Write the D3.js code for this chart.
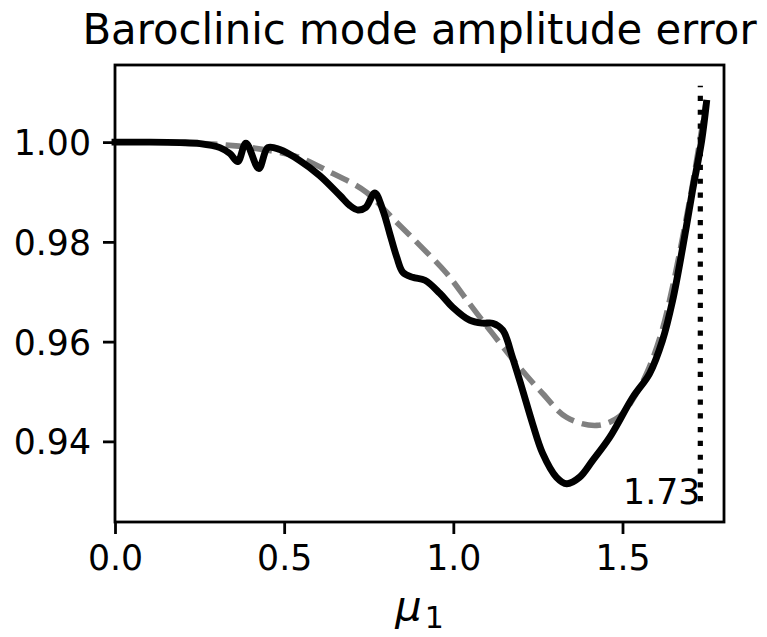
<!DOCTYPE html>
<html>
<head>
<meta charset="utf-8">
<script src="https://cdn.jsdelivr.net/npm/d3@7"></script>
<style>
    body { margin: 0; background: #fff; }
    text { font-family: "DejaVu Sans", sans-serif; fill: #000; }
</style>
</head>
<body>
<div id="scene"></div>
<script>
// solid curve (model)
const muSolid = [0.000, 0.103, 0.192, 0.251, 0.310, 0.340, 0.363, 0.387, 0.425, 0.452, 0.487, 0.546, 0.605, 0.665, 0.694, 0.718, 0.741, 0.768, 0.792, 0.812, 0.833, 0.851, 0.880, 0.916, 0.960, 0.998, 1.048, 1.087, 1.116, 1.146, 1.175, 1.205, 1.234, 1.264, 1.305, 1.335, 1.373, 1.412, 1.462, 1.530, 1.580, 1.618, 1.648, 1.678, 1.707, 1.734, 1.748];
const ampSolid = [1.0000, 1.0000, 0.9999, 0.9997, 0.9989, 0.9977, 0.9961, 0.9998, 0.9947, 0.9989, 0.9985, 0.9963, 0.9933, 0.9893, 0.9873, 0.9864, 0.9869, 0.9898, 0.9863, 0.9817, 0.9769, 0.9739, 0.9729, 0.9723, 0.9697, 0.9669, 0.9643, 0.9637, 0.9637, 0.9623, 0.9568, 0.9502, 0.9436, 0.9376, 0.9328, 0.9315, 0.9328, 0.9362, 0.9408, 0.9488, 0.9536, 0.9602, 0.9682, 0.9789, 0.9903, 1.0003, 1.0078];

// dashed curve (reference)
const muDashed = [0.000, 0.192, 0.348, 0.458, 0.546, 0.644, 0.703, 0.744, 0.833, 0.901, 0.980, 1.048, 1.116, 1.196, 1.264, 1.335, 1.424, 1.491, 1.540, 1.580, 1.618, 1.648, 1.678, 1.707, 1.748];
const ampDashed = [1.0000, 0.9999, 0.9993, 0.9983, 0.9969, 0.9937, 0.9917, 0.9899, 0.9839, 0.9793, 0.9737, 0.9676, 0.9616, 0.9548, 0.9496, 0.9448, 0.9432, 0.9450, 0.9495, 0.9550, 0.9625, 0.9710, 0.9810, 0.9915, 1.0084];

// vertical marker
const markerMu = 1.73;
const markerRange = [0.928, 1.0113];
const markerLabel = "1.73";

const xTicks = [0.0, 0.5, 1.0, 1.5];
const xTickLabels = ["0.0", "0.5", "1.0", "1.5"];
const yTicks = [0.94, 0.96, 0.98, 1.00];
const yTickLabels = ["0.94", "0.96", "0.98", "1.00"];
const xDomain = [0, 1.8];

const width = 767;
const height = 637;
const margin = { top: 65, right: 43, bottom: 115, left: 115 };
const fontSize = 34.7;

const svg = d3.select("#scene")
    .append("svg")
    .attr("width", width)
    .attr("height", height);

// y limits like matplotlib autoscale: 5% pad around marker extent
const pad = (markerRange[1] - markerRange[0]) * 0.05;
const yDomain = [markerRange[0] - pad, markerRange[1] + pad];

const xScale = d3.scaleLinear().domain(xDomain).range([margin.left, width - margin.right]);
const yScale = d3.scaleLinear().domain(yDomain).range([height - margin.bottom, margin.top]);

const line = d3.line()
    .x(d => xScale(d[0]))
    .y(d => yScale(d[1]))
    .curve(d3.curveCatmullRom.alpha(0.5));

const dashedData = muDashed.map((m, i) => [m, ampDashed[i]]);
const solidData = muSolid.map((m, i) => [m, ampSolid[i]]);

svg.append("path")
    .datum(dashedData)
    .attr("d", line)
    .attr("fill", "none")
    .attr("stroke", "#808080")
    .attr("stroke-width", 5.6)
    .attr("stroke-dasharray", "19.3,8.3");

svg.append("path")
    .datum(solidData)
    .attr("d", line)
    .attr("fill", "none")
    .attr("stroke", "#000")
    .attr("stroke-width", 6.9)
    .attr("stroke-linejoin", "round")
    .attr("stroke-linecap", "square");

svg.append("line")
    .attr("x1", xScale(markerMu))
    .attr("x2", xScale(markerMu))
    .attr("y1", yScale(markerRange[0]))
    .attr("y2", yScale(markerRange[1]))
    .attr("stroke", "#000")
    .attr("stroke-width", 5.2)
    .attr("stroke-dasharray", "5.2,8.6");

svg.append("text")
    .attr("x", xScale(markerMu))
    .attr("y", yScale(0.9275))
    .attr("text-anchor", "end")
    .style("font-size", fontSize + "px")
    .text(markerLabel);

// axes frame
svg.append("rect")
    .attr("x", margin.left)
    .attr("y", margin.top)
    .attr("width", width - margin.left - margin.right)
    .attr("height", height - margin.top - margin.bottom)
    .attr("fill", "none")
    .attr("stroke", "#000")
    .attr("stroke-width", 2.8);

const xAxis = d3.axisBottom(xScale)
    .tickValues(xTicks)
    .tickFormat((d, i) => xTickLabels[i])
    .tickSize(12)
    .tickPadding(12);

const yAxis = d3.axisLeft(yScale)
    .tickValues(yTicks)
    .tickFormat((d, i) => yTickLabels[i])
    .tickSize(12)
    .tickPadding(12);

const gx = svg.append("g")
    .attr("transform", `translate(0,${height - margin.bottom})`)
    .call(xAxis);

const gy = svg.append("g")
    .attr("transform", `translate(${margin.left},0)`)
    .call(yAxis);

[gx, gy].forEach(g => {
    g.select(".domain").remove();
    g.selectAll(".tick line").attr("stroke", "#000").attr("stroke-width", 2.8);
    g.selectAll(".tick text")
        .attr("fill", "#000")
        .style("font-family", "'DejaVu Sans', sans-serif")
        .style("font-size", fontSize + "px");
});

gx.selectAll(".tick text").attr("dy", null).attr("y", 48);
gy.selectAll(".tick text").attr("dy", "0.36em");

// title
svg.append("text")
    .attr("x", (margin.left + width - margin.right) / 2)
    .attr("y", 44)
    .attr("text-anchor", "middle")
    .style("font-size", "41.8px")
    .text("Baroclinic mode amplitude error");

// x label: mu_1
const xlabel = svg.append("text")
    .attr("x", (margin.left + width - margin.right) / 2)
    .attr("y", 620)
    .attr("text-anchor", "middle")
    .style("font-size", "41.6px");

xlabel.append("tspan")
    .style("font-style", "italic")
    .text("μ");

xlabel.append("tspan")
    .attr("dx", 3)
    .attr("dy", 8)
    .style("font-size", "30px")
    .text("1");
</script>
</body>
</html>
